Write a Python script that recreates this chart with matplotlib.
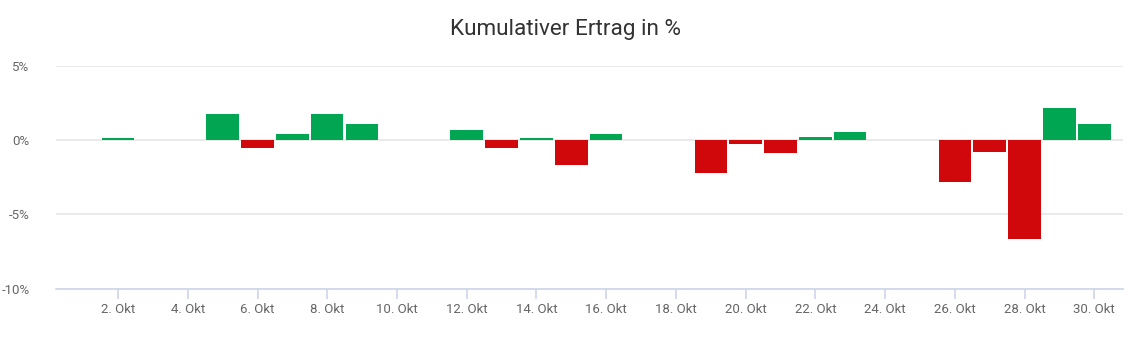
import matplotlib
matplotlib.use("Agg")
import matplotlib.pyplot as plt

plt.rcParams['font.family'] = ['Roboto', 'DejaVu Sans']

# daily values (% ), October
days = [2, 5, 6, 7, 8, 9, 12, 13, 14, 15, 16, 19, 20, 21, 22, 23, 26, 27, 28, 29, 30]
values = [0.15, 1.73, -0.54, 0.38, 1.73, 1.05, 0.65, -0.54, 0.15, -1.7, 0.38,
          -2.22, -0.27, -0.87, 0.2, 0.56, -2.8, -0.79, -6.68, 2.15, 1.05]
tick_days = list(range(2, 31, 2))
tick_labels = [f"{d}. Okt" for d in tick_days]
y_ticks = [-10, -5, 0, 5]
y_labels = ["-10%", "-5%", "0%", "5%"]

green = '#00a651'
red = '#d0070b'
colors = [green if v >= 0 else red for v in values]

fig = plt.figure(figsize=(11.4, 3.45), dpi=100)
ax = fig.add_axes([0.0491, 0.1632, 0.9359, 0.6464])

ax.bar(days, values, width=0.93, color=colors, linewidth=0, zorder=3)

ax.set_xlim(0.22, 30.82)
ax.set_ylim(-10, 5)
ax.set_yticks(y_ticks)
ax.set_yticklabels(y_labels)
ax.set_xticks(tick_days)
ax.set_xticklabels(tick_labels)

ax.grid(axis='y', color='#e6e6e6', linewidth=1.2, zorder=0)
for s in ['top', 'right', 'left']:
    ax.spines[s].set_visible(False)
ax.spines['bottom'].set_color('#ccd6eb')
ax.spines['bottom'].set_linewidth(1.2)

ax.tick_params(axis='x', colors='#ccd6eb', length=7.5, width=1.2, labelcolor='#666666',
               labelsize=9.5, pad=3)
ax.tick_params(axis='y', length=0, labelcolor='#666666', labelsize=9.5, pad=19)

fig.suptitle("Kumulativer Ertrag in %", fontsize=16.2, color='#333333', x=0.496, y=0.945)

fig.savefig("out.png", dpi=100)
